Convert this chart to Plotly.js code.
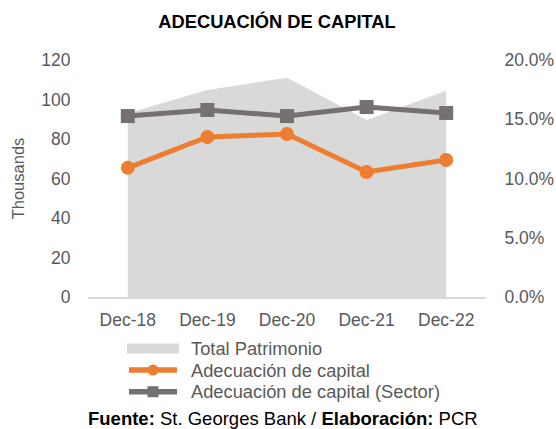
<!DOCTYPE html>
<html><head><meta charset="utf-8">
<script src="https://cdn.plot.ly/plotly-3.0.1.min.js"></script>
<style>body{margin:0;background:#fff}#c{width:556px;height:429px}</style>
</head><body><div id="c"></div>
<script>
const categories = ["Dec-18","Dec-19","Dec-20","Dec-21","Dec-22"];
const totalPatrimonio = [93, 104.8, 111, 89.6, 104.4];
const adecuacion = [0.109, 0.135, 0.1375, 0.1055, 0.1156];
const adecuacionSector = [0.1527, 0.1578, 0.1527, 0.1603, 0.1553];
const leftTicks = [0,20,40,60,80,100,120];
const rightTicks = [0,0.05,0.10,0.15,0.20];
const seriesNames = ["Total Patrimonio","Adecuación de capital","Adecuación de capital (Sector)"];
const colors = {fill:"#d9d9d9", orange:"#ed7d31", gray:"#767171", text:"#595959"};

const FF = "Liberation Sans, Arial, sans-serif";
const tickFont = {family:FF, size:17.5, color:colors.text};

// plot area in pixels
const M = {l:88, r:70, t:60, b:132};
const W = 556, H = 429;
const PW = W - M.l - M.r, PH = H - M.t - M.b;
const px = x => (x - M.l) / PW;
const py = y => (M.t + PH - y) / PH;

const data = [
  {x:categories, y:totalPatrimonio, name:seriesNames[0], type:"scatter", mode:"lines",
   fill:"tozeroy", fillcolor:colors.fill, line:{width:0, color:colors.fill}, yaxis:"y"},
  {x:categories, y:adecuacion, name:seriesNames[1], type:"scatter", mode:"lines+markers",
   line:{color:colors.orange, width:5}, marker:{symbol:"circle", size:14, color:colors.orange}, yaxis:"y2"},
  {x:categories, y:adecuacionSector, name:seriesNames[2], type:"scatter", mode:"lines+markers",
   line:{color:colors.gray, width:5}, marker:{symbol:"square", size:14, color:colors.gray}, yaxis:"y2"}
];

// custom legend
const legRows = [348.5, 370, 391.7];
const shapes = [
  {type:"rect", xref:"paper", yref:"paper", x0:px(127), x1:px(179), y0:py(353.5), y1:py(343.5),
   fillcolor:colors.fill, line:{width:0}},
  {type:"line", xref:"paper", yref:"paper", x0:px(129), x1:px(177), y0:py(legRows[1]), y1:py(legRows[1]),
   line:{color:colors.orange, width:5.5}},
  {type:"circle", xref:"paper", yref:"paper", x0:px(147.5), x1:px(158.5), y0:py(legRows[1]+5.5), y1:py(legRows[1]-5.5),
   fillcolor:colors.orange, line:{width:0}},
  {type:"line", xref:"paper", yref:"paper", x0:px(129), x1:px(177), y0:py(legRows[2]), y1:py(legRows[2]),
   line:{color:colors.gray, width:5.5}},
  {type:"rect", xref:"paper", yref:"paper", x0:px(147.5), x1:px(158.5), y0:py(legRows[2]+5.5), y1:py(legRows[2]-5.5),
   fillcolor:colors.gray, line:{width:0}}
];
const legFont = {family:FF, size:18.3, color:colors.text};
const annotations = seriesNames.map((n,i) => ({xref:"paper", yref:"paper", x:px(189), xanchor:"left",
   y:py(legRows[i]), yanchor:"middle", text:n, showarrow:false, font:legFont}));
annotations.push({xref:"paper", yref:"paper", x:px(282.5), xanchor:"center", y:py(418.5), yanchor:"middle",
    text:"<b>Fuente:</b> St. Georges Bank / <b>Elaboración:</b> PCR", showarrow:false,
    font:{family:FF, size:18.5, color:"#000"}});

const layout = {
  width:W, height:H, paper_bgcolor:"#fff", plot_bgcolor:"#fff",
  margin:M, font:tickFont, showlegend:false,
  title:{text:"<b>ADECUACIÓN DE CAPITAL</b>", x:277/W, xanchor:"center", xref:"container", y:1 - 21.5/H, yanchor:"middle",
         font:{family:FF, size:18.3, color:"#000"}},
  xaxis:{type:"category", range:[-0.5,4.5], showline:true, linecolor:"#d9d9d9", linewidth:1.5,
         ticks:"outside", ticklen:6, tickcolor:"rgba(0,0,0,0)", showgrid:false, zeroline:false, tickfont:tickFont},
  yaxis:{range:[0,120], tickvals:leftTicks, showgrid:false, zeroline:false, showline:false,
         ticks:"outside", ticklen:13, tickcolor:"rgba(0,0,0,0)", tickfont:tickFont,
         title:{text:"Thousands", font:{family:FF, size:16.5, color:colors.text}, standoff:12}},
  yaxis2:{range:[0,0.20], tickvals:rightTicks, tickformat:".1%", overlaying:"y", side:"right",
          showgrid:false, zeroline:false, showline:false, ticks:"outside", ticklen:14,
          tickcolor:"rgba(0,0,0,0)", tickfont:tickFont},
  shapes:shapes, annotations:annotations
};
Plotly.newPlot("c", data, layout, {displayModeBar:false, staticPlot:true});
</script></body></html>
